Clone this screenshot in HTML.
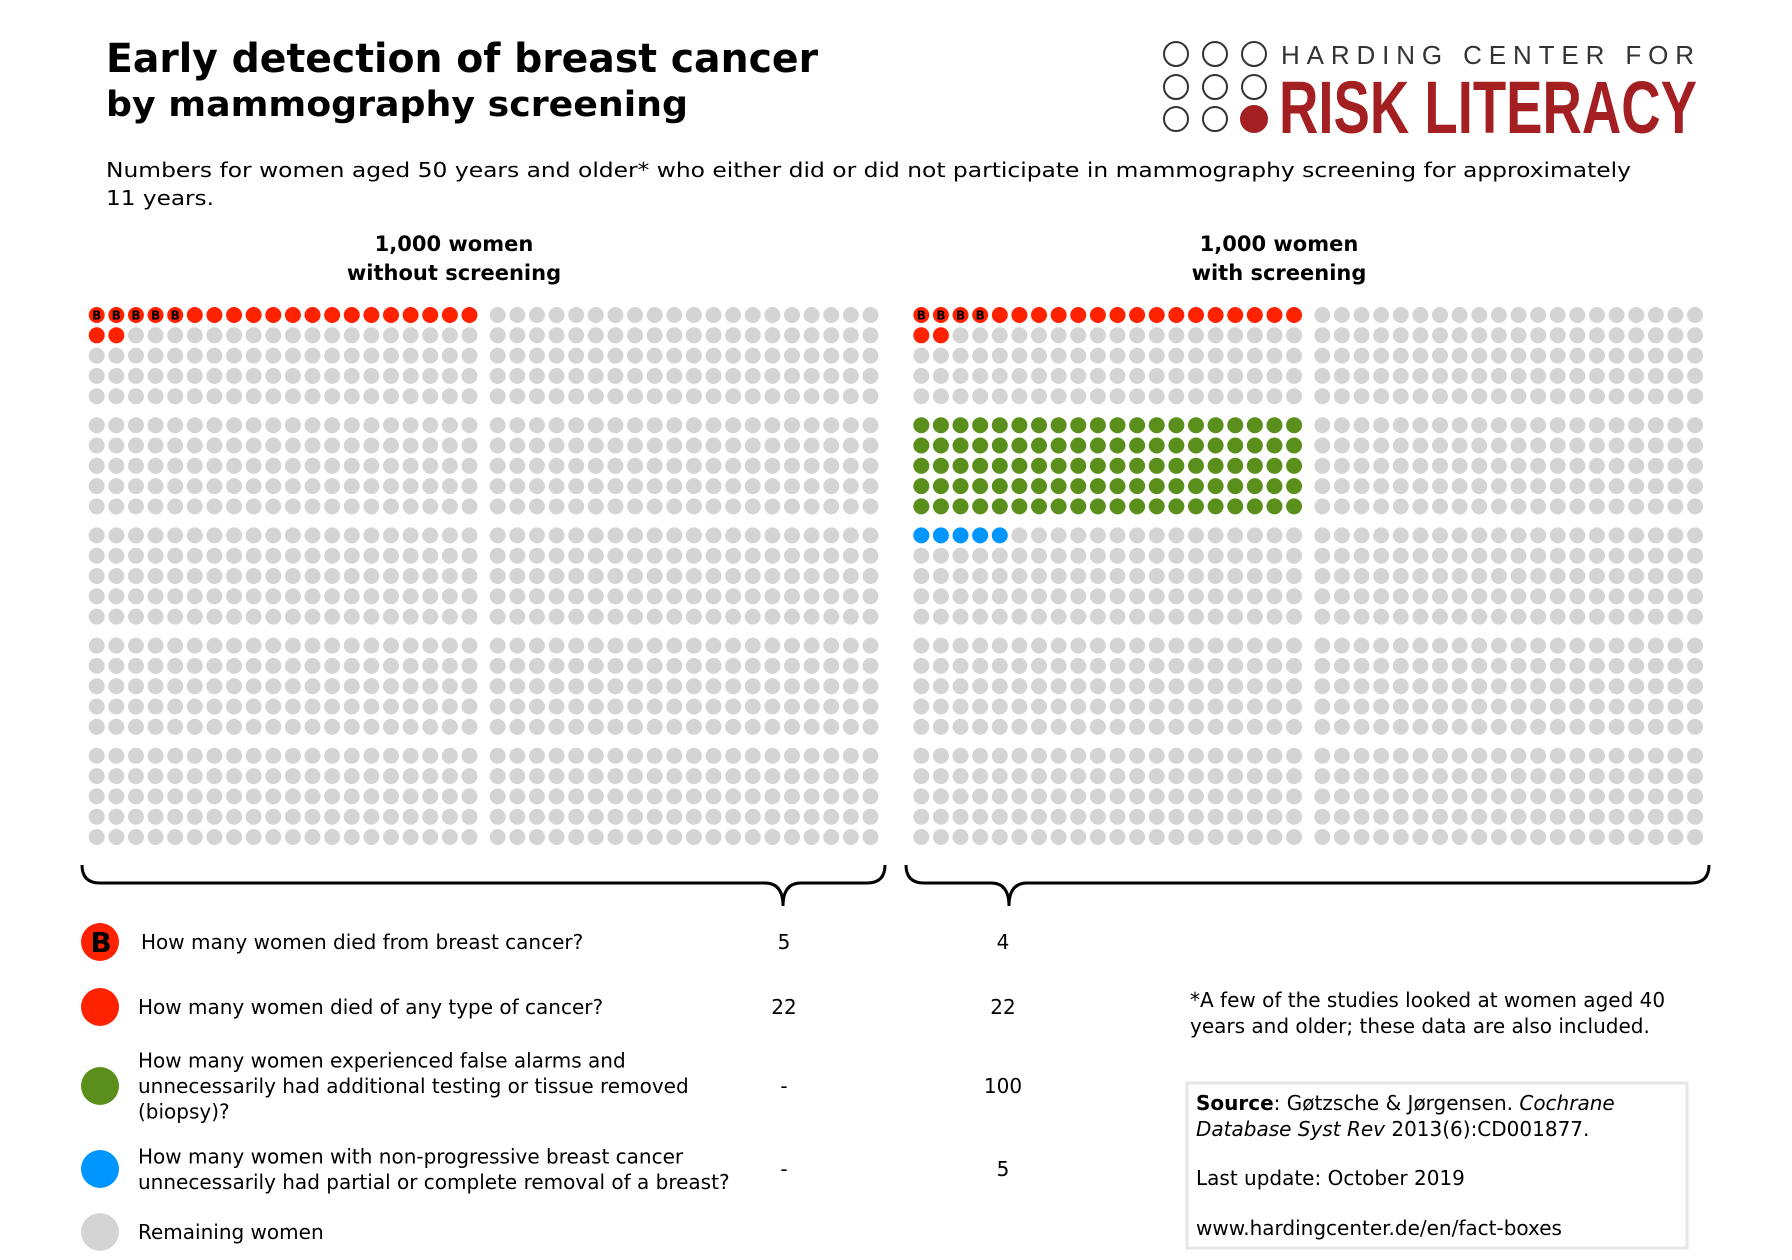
<!DOCTYPE html>
<html><head><meta charset="utf-8"><style>
html,body{margin:0;padding:0;background:#fff;}
svg{display:block;font-family:"DejaVu Sans","Liberation Sans",sans-serif;}
</style></head><body>
<svg id="chart" width="1792" height="1260" viewBox="0 0 1792 1260" xmlns="http://www.w3.org/2000/svg">
<text x="106" y="72" font-size="40" font-weight="bold" textLength="712" lengthAdjust="spacingAndGlyphs">Early detection of breast cancer</text>
<text x="106" y="116" font-size="35" font-weight="bold" textLength="582" lengthAdjust="spacingAndGlyphs">by mammography screening</text>
<g stroke="#333" stroke-width="2" fill="none">
<circle cx="1176" cy="54" r="12"/><circle cx="1215" cy="54" r="12"/><circle cx="1254" cy="54" r="12"/>
<circle cx="1176" cy="87" r="12"/><circle cx="1215" cy="87" r="12"/><circle cx="1254" cy="87" r="12"/>
<circle cx="1176" cy="119" r="12"/><circle cx="1215" cy="119" r="12"/><circle cx="1254" cy="119" r="13" fill="#a31f22" stroke="#a31f22"/>
</g>
<text x="1295" y="64" font-size="26" fill="#333" font-family="Liberation Sans Narrow, Liberation Sans, sans-serif" textLength="413" lengthAdjust="spacing" transform="translate(-14,0)">HARDING CENTER FOR</text>
<text x="1279" y="133" font-size="74" font-weight="bold" fill="#a31f22" font-family="Liberation Sans Narrow, Liberation Sans, sans-serif" textLength="418" lengthAdjust="spacingAndGlyphs">RISK LITERACY</text>
<text x="106" y="177" font-size="20" textLength="1525" lengthAdjust="spacingAndGlyphs">Numbers for women aged 50 years and older* who either did or did not participate in mammography screening for approximately</text>
<text x="106" y="205" font-size="20" textLength="108" lengthAdjust="spacingAndGlyphs">11 years.</text>
<text x="454" y="251" font-size="21" font-weight="bold" text-anchor="middle">1,000 women</text>
<text x="454" y="280" font-size="21" font-weight="bold" text-anchor="middle">without screening</text>
<text x="1279" y="251" font-size="21" font-weight="bold" text-anchor="middle">1,000 women</text>
<text x="1279" y="280" font-size="21" font-weight="bold" text-anchor="middle">with screening</text>
<g id="dots"></g>
<path d="M82,865 Q82,883 100,883 L765,883 Q783,883 783,906 Q783,883 801,883 L867,883 Q885,883 885,865" fill="none" stroke="#000" stroke-width="3"/>
<path d="M906,865 Q906,883 924,883 L991,883 Q1009,883 1009,906 Q1009,883 1027,883 L1691,883 Q1709,883 1709,865" fill="none" stroke="#000" stroke-width="3"/>
<g id="legend"></g>
<text x="1190" y="1018" font-size="20" transform="translate(0,-11)">*A few of the studies looked at women aged 40</text>
<text x="1190" y="1044" font-size="20" transform="translate(0,-11)">years and older; these data are also included.</text>
<rect x="1187" y="1083" width="500" height="165" fill="none" stroke="#e6e6e6" stroke-width="3"/>
<text x="1196" y="1110" font-size="20"><tspan font-weight="bold">Source</tspan>: Gøtzsche &amp; Jørgensen. <tspan font-style="italic">Cochrane</tspan></text>
<text x="1196" y="1136" font-size="20"><tspan font-style="italic">Database Syst Rev</tspan> 2013(6):CD001877.</text>
<text x="1196" y="1185" font-size="20">Last update: October 2019</text>
<text x="1196" y="1235" font-size="20">www.hardingcenter.de/en/fact-boxes</text>
</svg>
<script>
const categories = ["breast-cancer-death", "any-cancer-death", "false-alarm", "overtreatment"];
const withoutScreening = [5, 22, 0, 0];
const withScreening = [4, 22, 100, 5];
const colors = {"breast-cancer-death":"#ff2200","any-cancer-death":"#ff2200","false-alarm":"#5a8f1c","overtreatment":"#0096ff"};
const questions = [
  ["How many women died from breast cancer?"],
  ["How many women died of any type of cancer?"],
  ["How many women experienced false alarms and","unnecessarily had additional testing or tissue removed","(biopsy)?"],
  ["How many women with non-progressive breast cancer","unnecessarily had partial or complete removal of a breast?"],
  ["Remaining women"]
];
const legendColors = ["#ff2200","#ff2200","#5a8f1c","#0096ff","#d4d4d4"];
const legendY = [942, 1007, 1086, 1169, 1232];

const NS = "http://www.w3.org/2000/svg";
const panelX = [96.7, 921.3];
function colX(panel, block, c){ return panelX[panel] + block*401 + c*19.62; }
function rowY(r){ return 315 + Math.floor(r/5)*110.2 + (r%5)*20.3; }

const dotsG = document.getElementById("dots");
[withoutScreening, withScreening].forEach((vals, p) => {
  const fill = {};
  const bCount = vals[0];
  const redCount = vals[1];
  for (let i=0;i<redCount;i++){ fill[i] = (i < bCount) ? "B" : "any-cancer-death"; }
  let nextGroupRow = Math.ceil(Math.ceil(redCount/20)/5)*5;
  [2,3].forEach(ci => {
    const n = vals[ci];
    if (!n) return;
    const start = nextGroupRow*20;
    for (let i=0;i<n;i++) fill[start+i] = categories[ci];
    nextGroupRow += Math.ceil(Math.ceil(n/20)/5)*5;
  });
  for (let b=0;b<2;b++){
    for (let r=0;r<25;r++){
      for (let c=0;c<20;c++){
        const k = r*20+c;
        const cat = b===0 ? fill[k] : undefined;
        const cx = colX(p,b,c), cy = rowY(r);
        const circ = document.createElementNS(NS,"circle");
        circ.setAttribute("cx", cx);
        circ.setAttribute("cy", cy);
        circ.setAttribute("r", 8);
        circ.setAttribute("fill", cat === "B" ? "#ff2200" : (cat ? colors[cat] : "#d4d4d4"));
        
        
        dotsG.appendChild(circ);
        if (cat === "B"){
          const t = document.createElementNS(NS,"text");
          t.setAttribute("x", cx); t.setAttribute("y", cy+4.5);
          t.setAttribute("text-anchor","middle"); t.setAttribute("font-size","12"); t.setAttribute("font-weight","bold");
          t.textContent = "B";
          
          
          dotsG.appendChild(t);
        }
      }
    }
  }
});

const legG = document.getElementById("legend");
const valsWithout = ["5","22","-","-",""];
const valsWith = ["4","22","100","5",""];
questions.forEach((lines, i) => {
  const y = legendY[i];
  const c = document.createElementNS(NS,"circle");
  c.setAttribute("cx",100); c.setAttribute("cy",y); c.setAttribute("r",19);
  c.setAttribute("fill", legendColors[i]);
  
  
  legG.appendChild(c);
  if (i===0){
    const b = document.createElementNS(NS,"text");
    b.setAttribute("x",101); b.setAttribute("y",y+10); b.setAttribute("text-anchor","middle");
    b.setAttribute("font-size","28"); b.setAttribute("font-weight","bold"); b.textContent="B";
    
    
    legG.appendChild(b);
  }
  const lh = 25.5;
  const y0 = y - (lines.length-1)*lh/2 + 7;
  lines.forEach((ln, j) => {
    const t = document.createElementNS(NS,"text");
    t.setAttribute("x", i===0 ? 141 : 138); t.setAttribute("y", y0 + j*lh);
    t.setAttribute("font-size","20"); t.textContent = ln;
    
    
    legG.appendChild(t);
  });
  [[784, valsWithout[i]], [1003, valsWith[i]]].forEach(([x,v]) => {
    if (!v) return;
    const t = document.createElementNS(NS,"text");
    t.setAttribute("x", x); t.setAttribute("y", y+7);
    t.setAttribute("font-size","20"); t.setAttribute("text-anchor","middle"); t.textContent = v;
    
    
    legG.appendChild(t);
  });
});
</script>
</body></html>
